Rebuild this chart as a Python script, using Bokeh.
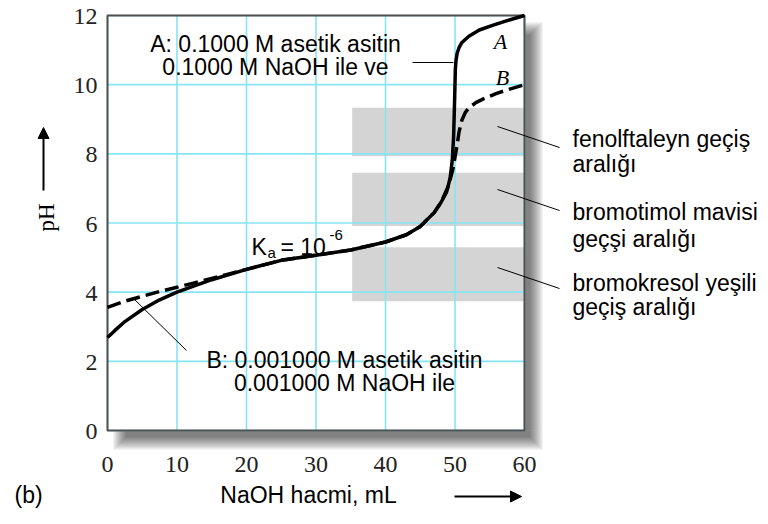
from bokeh.plotting import figure
from bokeh.models import Label, Arrow, NormalHead, Range1d
from bokeh.core.properties import value
from bokeh.embed import file_html
from bokeh.resources import INLINE

# Curve A: 0.1000 M acetic acid titrated with 0.1000 M NaOH
vol_a = [0, 1, 2.5, 5, 7.5, 10, 15, 20, 25, 30, 35, 40, 43, 45, 47, 48, 48.8,
         49.3, 49.6, 49.8, 49.95, 50.05, 50.15, 50.3, 50.6, 51, 52, 53.5,
         55.5, 57.5, 60]
ph_a = [2.69, 2.88, 3.15, 3.5, 3.78, 4.0, 4.36, 4.66, 4.92, 5.07, 5.22, 5.45,
        5.66, 5.9, 6.3, 6.6, 6.9, 7.3, 7.8, 8.5, 9.6, 10.45, 10.7, 10.9,
        11.08, 11.22, 11.4, 11.58, 11.72, 11.85, 12.0]

# Curve B: 0.001000 M acetic acid titrated with 0.001000 M NaOH
vol_b = [0, 2.5, 5, 7.5, 10, 12.5, 15, 17.5, 20, 22.5, 25, 30, 35, 40, 43, 45,
         47, 48, 49, 49.5, 49.8, 50, 50.3, 50.6, 51, 51.5, 52, 53, 54, 56, 58,
         60]
ph_b = [3.56, 3.74, 3.88, 4.02, 4.14, 4.27, 4.40, 4.53, 4.66, 4.79, 4.92,
        5.07, 5.22, 5.45, 5.66, 5.9, 6.3, 6.6, 7.05, 7.4, 7.65, 7.9, 8.25,
        8.65, 8.98, 9.2, 9.33, 9.48, 9.58, 9.75, 9.88, 10.0]

# Indicator transition ranges (pH)
indicator_low = [7.93, 5.91, 3.74]
indicator_high = [9.33, 7.45, 5.30]
indicator_lines = [("fenolftaleyn geçiş", "aralığı"),
                   ("bromotimol mavisi", "geçşi aralığı"),
                   ("bromokresol yeşili", "geçiş aralığı")]

x_ticks = [0, 10, 20, 30, 40, 50, 60]
y_ticks = [0, 2, 4, 6, 8, 10, 12]
x_min, x_max = 0, 60
y_min, y_max = 0, 12

SANS = "Liberation Sans"
SERIF = "Liberation Serif"
TXT = "23px"

# canvas and plot-box geometry (pixels)
W, H = 768, 524
LEFT, RIGHT, TOP, BOTTOM = 107, 524, 15, 430
SX = (RIGHT - LEFT) / (x_max - x_min)
SY = (BOTTOM - TOP) / (y_max - y_min)


def fx(px):
    return x_min + (px - LEFT) / SX


def fy(py):
    return y_min + (BOTTOM - py) / SY


p = figure(width=W, height=H,
           x_range=Range1d(fx(0), fx(W)), y_range=Range1d(fy(H), fy(0)),
           min_border=0, x_axis_location=None, y_axis_location=None,
           output_backend="svg", toolbar_location=None)
p.grid.visible = False
p.outline_line_color = None
p.background_fill_color = "white"
p.border_fill_color = "white"

# soft drop shadow to the right of and below the plot box
for k in range(-6, 7, 2):
    p.quad(left=[x_max, fx(119 + k)], right=[fx(536 - k), fx(536 - k)],
           top=[fy(28 + k), y_min], bottom=[y_min, fy(443 - k)],
           fill_color="black", fill_alpha=0.09, line_color=None,
           level="image")

# indicator strips
p.quad(left=[35.2] * 3, right=[x_max] * 3, bottom=indicator_low,
       top=indicator_high, fill_color="#d4d4d4", line_color=None,
       level="image")

# grid
grid_color = "#86e4f3"
p.segment(x0=x_ticks, y0=[y_min] * len(x_ticks), x1=x_ticks,
          y1=[y_max] * len(x_ticks), line_color=grid_color, line_width=1.6)
p.segment(x0=[x_min] * len(y_ticks), y0=y_ticks, x1=[x_max] * len(y_ticks),
          y1=y_ticks, line_color=grid_color, line_width=1.6)

# plot box
p.quad(left=[x_min], right=[x_max], bottom=[y_min], top=[y_max],
       fill_color=None, line_color="#505050", line_width=2)

# tick labels
p.text(x=x_ticks, y=[fy(464)] * len(x_ticks), text=[str(t) for t in x_ticks],
       text_font=value(SERIF), text_font_size="24px", text_align="center",
       text_baseline="alphabetic", text_color="#222222")
p.text(x=[fx(97)] * len(y_ticks), y=[t - 1 / SY for t in y_ticks],
       text=[str(t) for t in y_ticks], text_font=value(SERIF),
       text_font_size="24px", text_align="right",
       text_baseline="alphabetic", text_color="#222222")

# titration curves
p.line(vol_b, ph_b, line_color="black", line_width=3.5, line_dash="14 6")
p.line(vol_a, ph_a, line_color="black", line_width=3.5, line_join="round")


def label(x, y, text, size=TXT, font=SANS, align="left", baseline="alphabetic",
          style="normal", angle=0):
    p.add_layout(Label(x=x, y=y, text=text, text_font=font,
                       text_font_size=size, text_align=align,
                       text_baseline=baseline, text_font_style=style,
                       text_color="black", angle=angle))


def leader(x0, y0, x1, y1):
    p.add_layout(Arrow(end=None, x_start=x0, y_start=y0, x_end=x1, y_end=y1,
                       line_color="black", line_width=1))


# curve A callout
label(fx(275), fy(43), "A: 0.1000 M asetik asitin", align="center")
label(fx(275), fy(66), "0.1000 M NaOH ile ve", align="center")
leader(fx(412), fy(62), fx(453), fy(62))

# curve B callout
label(fx(344), fy(359), "B: 0.001000 M asetik asitin", align="center")
label(fx(344), fy(382), "0.001000 M NaOH ile", align="center")
leader(fx(132), fy(297), fx(186), fy(350))

# curve letters
label(fx(500), fy(41), "A", size="22px", font=SERIF, align="center",
      baseline="middle", style="italic")
label(fx(502), fy(77), "B", size="22px", font=SERIF, align="center",
      baseline="middle", style="italic")

# dissociation constant
label(fx(251), fy(246), "K")
label(fx(267), fy(252), "a", size="15px")
label(fx(280), fy(246), "= 10")
label(fx(329), fy(234), "-6", size="15px")

# indicator names with leaders
baselines = [(138, 163), (211, 238), (282, 306)]
starts = [126, 189, 267]
for (l1, l2), (b1, b2), s in zip(indicator_lines, baselines, starts):
    label(fx(572), fy(b1), l1)
    label(fx(572), fy(b2), l2)
    leader(fx(497), fy(s), fx(559), fy(s + 21))

# axis titles with arrows
label(fx(46), fy(217), "pH", size="23px", font=SERIF, align="center",
      baseline="middle", angle=1.5708)
p.add_layout(Arrow(end=NormalHead(size=11, fill_color="black",
                                  line_color="black"),
                   x_start=fx(43), y_start=fy(190), x_end=fx(43), y_end=fy(127),
                   line_color="black", line_width=2))
label(fx(14), fy(494), "(b)")
label(fx(308), fy(494), "NaOH hacmi, mL", align="center")
p.add_layout(Arrow(end=NormalHead(size=11, fill_color="black",
                                  line_color="black"),
                   x_start=fx(454), y_start=fy(496), x_end=fx(521), y_end=fy(496),
                   line_color="black", line_width=2))

open("out.html", "w").write(file_html(p, INLINE))
